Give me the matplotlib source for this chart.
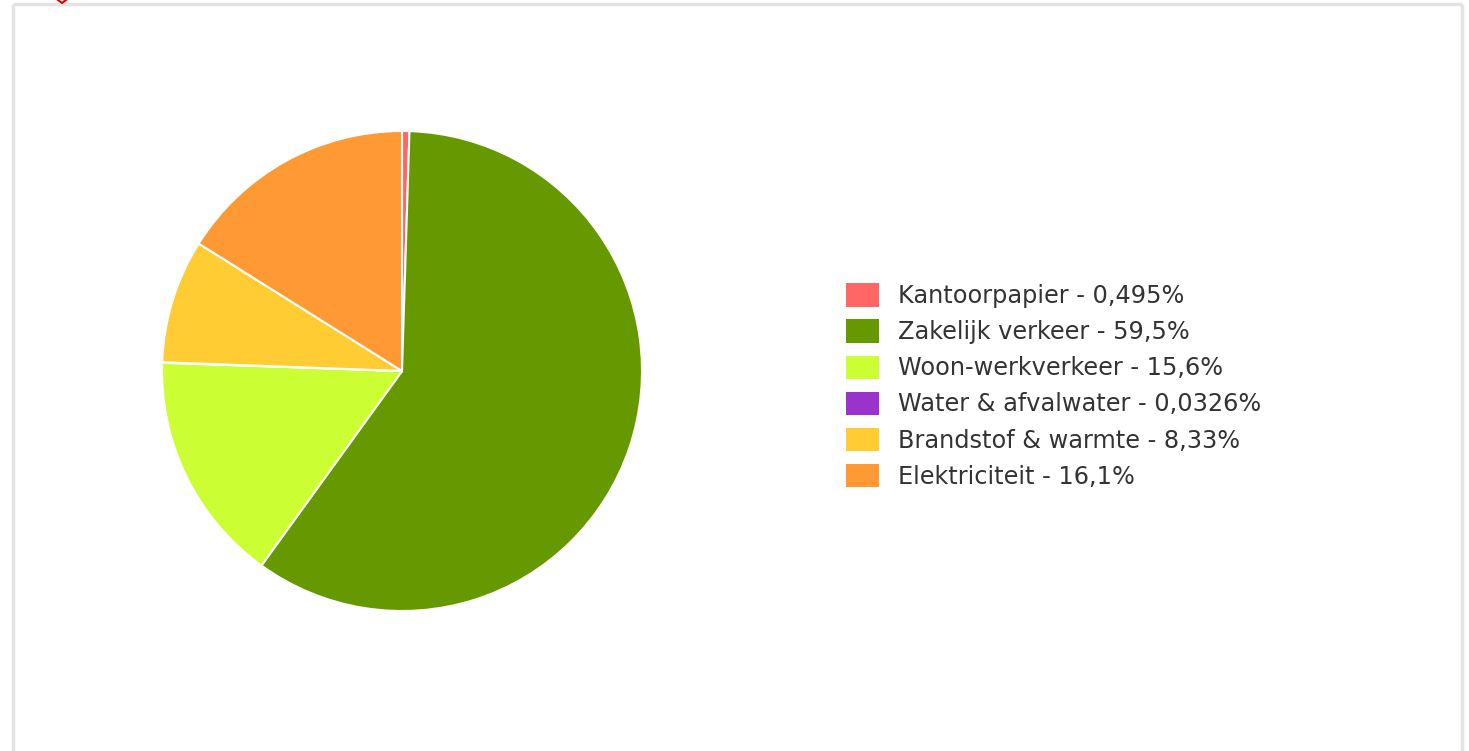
import matplotlib
matplotlib.use('Agg')
import matplotlib.pyplot as plt
from matplotlib.lines import Line2D

labels = ['Kantoorpapier', 'Zakelijk verkeer', 'Woon-werkverkeer',
          'Water & afvalwater', 'Brandstof & warmte', 'Elektriciteit']
shares = [0.495, 59.5, 15.6, 0.0326, 8.33, 16.1]
share_text = ['0,495', '59,5', '15,6', '0,0326', '8,33', '16,1']
colors = ['#ff6666', '#669900', '#ccff33', '#9933cc', '#ffcc33', '#ff9933']

W, H = 1469, 751
fig = plt.figure(figsize=(W / 100, H / 100), dpi=100)
fig.patch.set_facecolor('white')

# outer grey frame (bottom edge is cut off)
frame = dict(color='#e3e3e3', lw=2.5, transform=fig.transFigure, solid_capstyle='butt')
x0, x1, ytop = 12.5 / W, 1461.5 / W, 1 - 4 / H
fig.add_artist(Line2D([x0, x0], [0, ytop], **frame))
fig.add_artist(Line2D([x1, x1], [0, ytop], **frame))
fig.add_artist(Line2D([x0, x1], [ytop, ytop], **frame))
fig.add_artist(Line2D([58 / W, 62 / W, 66 / W], [1 - 0 / H, 1 - 3 / H, 1 - 0 / H],
                      color='#e00000', lw=1.5, transform=fig.transFigure))

# pie: centre (402, 371) px, radius 240 px
cx, cy, r = 402, 371, 240
ax = fig.add_axes([(cx - r) / W, (H - cy - r) / H, 2 * r / W, 2 * r / H])
wedges, _ = ax.pie(shares, colors=colors, startangle=90, counterclock=False,
                   radius=1, wedgeprops=dict(edgecolor='white', linewidth=1.5))
ax.set_xlim(-1, 1)
ax.set_ylim(-1, 1)
ax.set_aspect('auto')
ax.axis('off')

fs = 17.25
fpx = fs * 100 / 72
leg_labels = [f'{l} - {s}%' for l, s in zip(labels, share_text)]
fig.legend(wedges, leg_labels, loc='center left',
           bbox_to_anchor=(846 / W, (H - 386) / H), frameon=False,
           fontsize=fs, labelcolor='#333333', borderpad=0, borderaxespad=0,
           handlelength=33 / fpx, handleheight=27 / fpx, handletextpad=19 / fpx,
           labelspacing=0.47)
for h in fig.legends[0].legend_handles:
    h.set_edgecolor('none')

fig.savefig('out.png', dpi=100, facecolor='white')
